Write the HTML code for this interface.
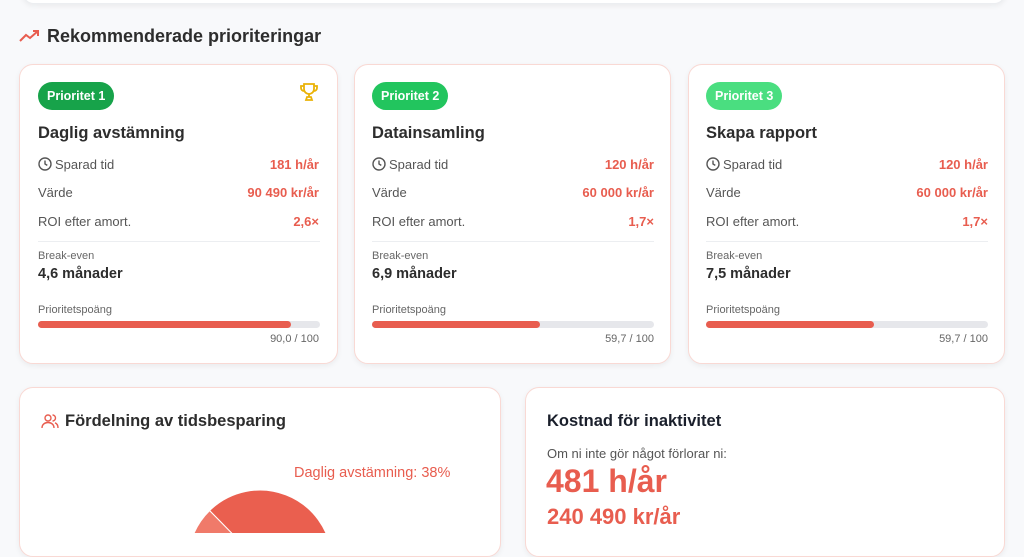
<!DOCTYPE html>
<html><head><meta charset="utf-8"><style>
body{margin:0;width:1024px;height:533px;overflow:hidden;background:#f8f9fb;font-family:"Liberation Sans",sans-serif;position:relative;color:#333}
.a{position:absolute;white-space:nowrap}
.card{position:absolute;background:#fff;border:1.5px solid #f9d9d4;border-radius:14px;box-shadow:0 2px 6px rgba(0,0,0,0.06);box-sizing:border-box}
.badge{position:absolute;height:28px;border-radius:14px;color:#fff;font-weight:bold;font-size:12.5px;line-height:28px;padding:0 9px}
.t{font-size:16.5px;font-weight:bold;color:#2d2d2d}
.l{font-size:13px;color:#555}
.v{font-size:13px;color:#e85d4f;font-weight:bold;text-align:right}
.s{font-size:11px;color:#666}
.bv{font-size:14.5px;font-weight:bold;color:#2d2d2d}
.bar{position:absolute;height:7px;background:#e6e7eb;border-radius:4px}
.bar i{position:absolute;left:0;top:0;height:7px;background:#e85d4f;border-radius:4px}
</style></head><body>
<div class="card" style="left:22px;top:-20px;width:984px;height:24px;border-color:#eceef1"></div>
<svg class="a" style="left:19px;top:29px" width="22" height="14" viewBox="0 0 22 14"><polyline points="1,12 7,6 11,9 19,2" fill="none" stroke="#e85d4f" stroke-width="2"/><polyline points="14,2 19,2 19,7" fill="none" stroke="#e85d4f" stroke-width="2"/></svg>
<div class="a" style="left:47px;top:26px;font-size:18px;font-weight:bold;color:#2d2d2d">Rekommenderade prioriteringar</div>

<div class="card" style="left:19px;top:64px;width:319px;height:300px"></div>
<div class="card" style="left:354px;top:64px;width:317px;height:300px"></div>
<div class="card" style="left:688px;top:64px;width:317px;height:300px"></div>

<div class="badge" style="left:38px;top:82px;background:#17a34a">Prioritet 1</div>
<div class="badge" style="left:372px;top:82px;background:#22c55e">Prioritet 2</div>
<div class="badge" style="left:706px;top:82px;background:#4ade80">Prioritet 3</div>
<svg class="a" style="left:299px;top:82px" width="20" height="20" viewBox="0 0 20 20" fill="none" stroke="#eab308" stroke-width="1.8"><path d="M5 2h10v5a5 5 0 0 1-10 0z"/><path d="M5 4H2v2a3 3 0 0 0 3 3M15 4h3v2a3 3 0 0 1-3 3"/><path d="M10 12v3M7 18h6l-1-3H8z"/></svg>

<div class="a t" style="left:38px;top:124px">Daglig avstämning</div>
<div class="a t" style="left:372px;top:124px">Datainsamling</div>
<div class="a t" style="left:706px;top:124px">Skapa rapport</div>

<svg class="a" style="left:38px;top:157px" width="14" height="14" viewBox="0 0 14 14" fill="none" stroke="#555" stroke-width="1.4"><circle cx="7" cy="7" r="6"/><path d="M7 3.5V7l2.3 1.4"/></svg>
<div class="a l" style="left:55px;top:157px">Sparad tid</div>
<div class="a v" style="right:705px;top:157px">181 h/år</div>
<div class="a l" style="left:38px;top:185px">Värde</div>
<div class="a v" style="right:705px;top:185px">90 490 kr/år</div>
<div class="a l" style="left:38px;top:214px">ROI efter amort.</div>
<div class="a v" style="right:705px;top:214px">2,6×</div>
<div class="a" style="left:38px;top:241px;width:282px;height:1px;background:#eceef1"></div>
<div class="a s" style="left:38px;top:250px">Break-even</div>
<div class="a bv" style="left:38px;top:266px">4,6 månader</div>
<div class="a s" style="left:38px;top:304px">Prioritetspoäng</div>
<div class="bar" style="left:38px;top:321px;width:282px"><i style="width:253px"></i></div>
<div class="a s" style="right:705px;top:333px">90,0 / 100</div>

<svg class="a" style="left:372px;top:157px" width="14" height="14" viewBox="0 0 14 14" fill="none" stroke="#555" stroke-width="1.4"><circle cx="7" cy="7" r="6"/><path d="M7 3.5V7l2.3 1.4"/></svg>
<div class="a l" style="left:389px;top:157px">Sparad tid</div>
<div class="a v" style="right:370px;top:157px">120 h/år</div>
<div class="a l" style="left:372px;top:185px">Värde</div>
<div class="a v" style="right:370px;top:185px">60 000 kr/år</div>
<div class="a l" style="left:372px;top:214px">ROI efter amort.</div>
<div class="a v" style="right:370px;top:214px">1,7×</div>
<div class="a" style="left:372px;top:241px;width:282px;height:1px;background:#eceef1"></div>
<div class="a s" style="left:372px;top:250px">Break-even</div>
<div class="a bv" style="left:372px;top:266px">6,9 månader</div>
<div class="a s" style="left:372px;top:304px">Prioritetspoäng</div>
<div class="bar" style="left:372px;top:321px;width:282px"><i style="width:168px"></i></div>
<div class="a s" style="right:370px;top:333px">59,7 / 100</div>

<svg class="a" style="left:706px;top:157px" width="14" height="14" viewBox="0 0 14 14" fill="none" stroke="#555" stroke-width="1.4"><circle cx="7" cy="7" r="6"/><path d="M7 3.5V7l2.3 1.4"/></svg>
<div class="a l" style="left:723px;top:157px">Sparad tid</div>
<div class="a v" style="right:36px;top:157px">120 h/år</div>
<div class="a l" style="left:706px;top:185px">Värde</div>
<div class="a v" style="right:36px;top:185px">60 000 kr/år</div>
<div class="a l" style="left:706px;top:214px">ROI efter amort.</div>
<div class="a v" style="right:36px;top:214px">1,7×</div>
<div class="a" style="left:706px;top:241px;width:282px;height:1px;background:#eceef1"></div>
<div class="a s" style="left:706px;top:250px">Break-even</div>
<div class="a bv" style="left:706px;top:266px">7,5 månader</div>
<div class="a s" style="left:706px;top:304px">Prioritetspoäng</div>
<div class="bar" style="left:706px;top:321px;width:282px"><i style="width:168px"></i></div>
<div class="a s" style="right:36px;top:333px">59,7 / 100</div>

<div class="card" style="left:19px;top:387px;width:482px;height:170px"></div>
<div class="card" style="left:525px;top:387px;width:480px;height:170px"></div>

<svg class="a" style="left:41px;top:413px" width="18" height="16" viewBox="0 0 18 16" fill="none" stroke="#e85d4f" stroke-width="1.4"><circle cx="7" cy="5" r="3"/><path d="M1 15c0-3.5 2.7-5.5 6-5.5s6 2 6 5.5"/><path d="M11.5 2a3 3 0 0 1 0 6M14 9.8c1.8.7 3 2.5 3 5.2"/></svg>
<div class="a" style="left:65px;top:412px;font-size:16.5px;font-weight:bold;color:#2d2d2d">Fördelning av tidsbesparing</div>
<div class="a" style="left:294px;top:465px;font-size:14.5px;color:#e85d4f">Daglig avstämning: 38%</div>
<svg class="a" style="left:0;top:0" width="520" height="533">
<path d="M260 562 L209.6 510.6 A72 72 0 0 1 331.9 558 Z" fill="#ea5f4f" stroke="#fff" stroke-width="1"/>
<path d="M260 562 L188 562 A72 72 0 0 1 209.6 510.6 Z" fill="#f07a6a" stroke="#fff" stroke-width="1"/>
</svg>

<div class="a" style="left:547px;top:412px;font-size:16.5px;font-weight:bold;color:#1a1f2b">Kostnad för inaktivitet</div>
<div class="a" style="left:547px;top:446px;font-size:13px;color:#555">Om ni inte gör något förlorar ni:</div>
<div class="a" style="left:546px;top:463px;font-size:32px;font-weight:bold;color:#e85d4f">481 h/år</div>
<div class="a" style="left:547px;top:504px;font-size:22px;font-weight:bold;color:#e85d4f">240 490 kr/år</div>
</body></html>
